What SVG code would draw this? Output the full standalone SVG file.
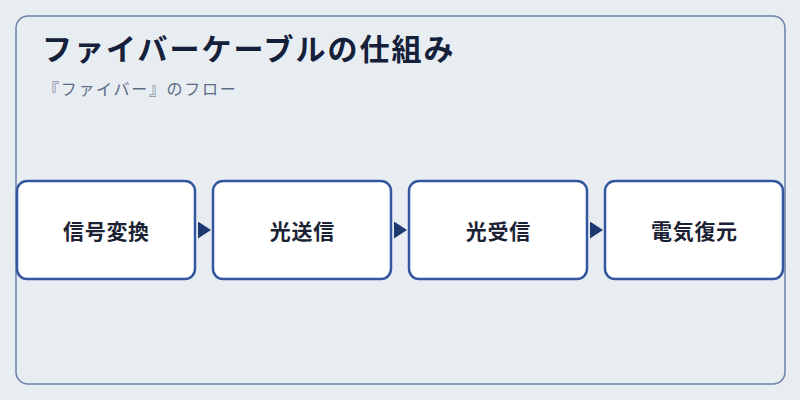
<svg xmlns="http://www.w3.org/2000/svg" width="800" height="400" viewBox="0 0 800 400">
<style>
.bg{fill:#e8edf2}
.frame{fill:#e8edf2;stroke:#6b80ad;stroke-width:1.5}
.title{font-family:"Noto Sans CJK JP","Noto Sans",sans-serif;font-size:30px;font-weight:700;fill:#15213a;letter-spacing:2px}
.sub{font-family:"Noto Sans CJK JP","Noto Sans",sans-serif;font-size:16px;fill:#5b6b86;letter-spacing:1.7px}
.box{fill:#ffffff;stroke:#3557a0;stroke-width:2.5}
.label{font-family:"Noto Sans CJK JP","Noto Sans",sans-serif;font-size:21px;font-weight:700;fill:#1a2233;text-anchor:middle;letter-spacing:0.7px}
.conn{stroke:#1e3a70;stroke-width:2;fill:none}
</style>
<defs>
<marker id="arr" markerWidth="13" markerHeight="17" refX="13" refY="8.5" orient="auto" markerUnits="userSpaceOnUse">
<path d="M0,0 L13,8.5 L0,17 Z" fill="#1e3a70"/>
</marker>
</defs>
<rect class="bg" x="0" y="0" width="800" height="400"/>
<rect class="frame" x="16" y="16" width="769" height="368" rx="12"/>
<text class="title" x="42" y="60">ファイバーケーブルの仕組み</text>
<text class="sub" x="43" y="95">『ファイバー』のフロー</text>
<g id="connectors">
<line class="conn" x1="198" y1="230" x2="211" y2="230" stroke-opacity="0" marker-end="url(#arr)"/>
<line class="conn" x1="394" y1="230" x2="407" y2="230" stroke-opacity="0" marker-end="url(#arr)"/>
<line class="conn" x1="590" y1="230" x2="603" y2="230" stroke-opacity="0" marker-end="url(#arr)"/>
</g>
<g id="node1"><rect class="box" x="17" y="181" width="178" height="98" rx="10"/><text class="label" x="106.4" y="238.5">信号変換</text></g>
<g id="node2"><rect class="box" x="213" y="181" width="178" height="98" rx="10"/><text class="label" x="302.4" y="238.5">光送信</text></g>
<g id="node3"><rect class="box" x="409" y="181" width="178" height="98" rx="10"/><text class="label" x="498.4" y="238.5">光受信</text></g>
<g id="node4"><rect class="box" x="605" y="181" width="178" height="98" rx="10"/><text class="label" x="694.4" y="238.5">電気復元</text></g>
</svg>
